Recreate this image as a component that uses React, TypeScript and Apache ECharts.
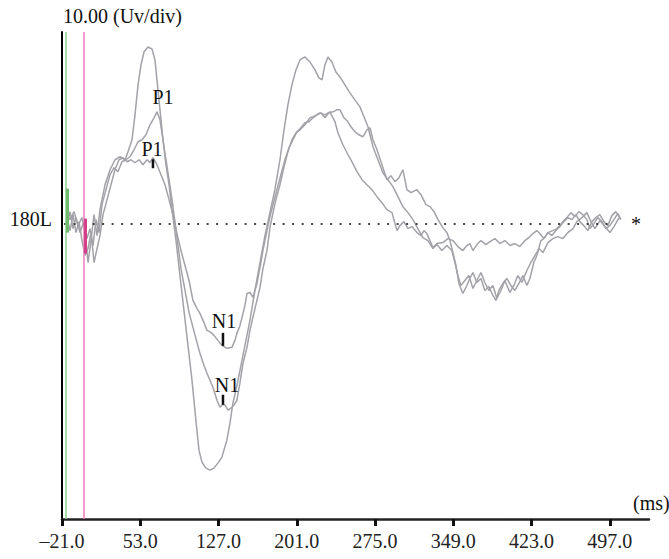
import React, { useEffect, useRef } from "react";
import * as echarts from "echarts";

const xTicks = [-21, 53, 127, 201, 275, 349, 423, 497];
const channelLabel = "180L";
const gainLabel = "10.00 (Uv/div)";
const timeUnit = "(ms)";
const baselineEnd = 500;
const greenMarkerMs = -17.2;
const pinkMarkerMs = 0;

const waveA: [number, number][] = [
  [-16.3, 0.9], [-13.4, 0.4], [-9.6, 1.2], [-5.9, -0.2], [-2.1, 0.6], [0.8, -0.9], [3.6, -3.9], [6.4, -1.7],
  [9.3, 0.9], [12.1, -1.2], [14.9, 1.4], [19.7, 3.9], [24.4, 5.4], [29.1, 6.4], [33.9, 6.7], [38.6, 6.4],
  [41.4, 7.2], [45.2, 8.4], [48.0, 10.9], [50.9, 13.9], [53.7, 15.9], [56.5, 17.2], [60.3, 17.7], [64.1, 17.5],
  [66.9, 16.4], [68.8, 14.4], [70.7, 12.4], [72.6, 10.4], [74.5, 8.4], [77.3, 5.9], [80.2, 3.9], [83.0, 1.4],
  [86.8, -1.7], [90.5, -5.2], [94.3, -8.7], [98.1, -12.2], [101.9, -15.7], [105.6, -19.7], [108.5, -22.7],
  [111.3, -23.9], [115.1, -24.5], [118.9, -24.7], [122.6, -24.5], [126.4, -24.0], [130.2, -23.4], [134.9, -21.7],
  [137.8, -20.0], [140.6, -18.0], [144.4, -16.2], [147.3, -14.7], [150.1, -13.2], [153.9, -11.2], [156.7, -9.7],
  [161.4, -6.7], [166.2, -3.9], [170.9, -1.2], [175.6, 1.1], [180.3, 3.4], [185.1, 6.4], [188.9, 9.4],
  [192.6, 11.9], [196.4, 13.9], [200.2, 15.4], [204.0, 16.4], [208.7, 16.7], [213.4, 16.2], [218.2, 15.4],
  [221.9, 14.6], [224.8, 14.4], [227.6, 15.9], [230.4, 16.7], [234.2, 16.2], [238.0, 15.2], [241.8, 14.7],
  [246.5, 13.9], [251.2, 13.1], [255.9, 12.4], [260.7, 11.7], [264.5, 10.7], [268.3, 9.7], [273.0, 7.7],
  [277.7, 6.4], [282.4, 5.1], [287.2, 4.4], [291.9, 3.7], [296.6, 2.7], [301.3, 1.7], [306.1, 1.1], [310.8, 0.4],
  [315.5, -0.5], [320.2, -1.4], [325.0, -1.7], [329.7, -2.5], [333.5, -2.1], [338.2, -2.7], [342.9, -2.2],
  [347.6, -2.7], [350.5, -3.9], [353.3, -5.2], [356.1, -6.2], [359.9, -5.7], [363.7, -5.2], [367.5, -6.5],
  [371.3, -5.7], [375.1, -4.9], [378.8, -5.9], [382.6, -6.7], [386.4, -6.2], [390.2, -7.5], [394.0, -6.7],
  [397.7, -5.7], [402.5, -6.9], [406.2, -6.2], [410.0, -5.2], [413.8, -5.9], [418.5, -4.7], [422.3, -3.9],
  [426.1, -3.2], [429.9, -2.5], [433.7, -2.9], [438.4, -1.9], [443.1, -1.5], [447.9, -1.3], [452.6, -1.5],
  [457.3, -0.9], [462.1, -0.5], [465.8, 0.2], [470.6, 0.6], [475.3, 1.1], [479.1, 0.2], [482.9, -0.5],
  [487.6, 0.3], [492.3, -0.3], [497.1, -0.9], [500.9, -0.3], [504.6, 0.4], [506.5, 0.6],
];

const waveB: [number, number][] = [
  [-16.3, -0.2], [-13.4, 1.2], [-10.6, -0.5], [-7.8, 0.6], [-4.0, -0.9], [-0.2, 0.2], [2.6, -1.5], [5.5, -0.5],
  [8.3, -2.2], [11.2, 0.4], [14.0, -0.9], [16.8, 1.9], [20.6, 3.4], [24.4, 4.9], [28.2, 5.6], [31.9, 5.2],
  [35.7, 6.2], [39.5, 6.4], [43.3, 6.7], [47.1, 7.4], [50.9, 8.2], [54.6, 8.4], [58.4, 8.9], [62.2, 9.9],
  [66.0, 10.6], [68.8, 11.2], [71.6, 10.4], [74.5, 8.4], [77.3, 6.4], [80.2, 4.4], [83.0, 2.4], [85.8, 0.2],
  [88.7, -2.2], [91.5, -4.5], [95.3, -6.7], [99.1, -8.9], [102.8, -10.4], [106.6, -11.9], [109.4, -13.0],
  [113.2, -14.2], [116.1, -15.0], [118.9, -15.7], [121.7, -16.4], [125.5, -17.7], [128.4, -18.4], [131.2, -18.1],
  [133.1, -18.2], [135.9, -18.7], [138.7, -18.5], [141.6, -18.2], [144.4, -17.7], [147.3, -15.9], [150.1, -14.0],
  [153.9, -12.4], [156.7, -10.7], [159.5, -9.4], [163.3, -7.7], [166.2, -6.4], [169.0, -4.5], [172.8, -2.7],
  [175.6, -0.4], [178.5, 1.1], [181.3, 2.4], [185.1, 3.9], [188.9, 5.7], [192.6, 7.2], [196.4, 8.4],
  [200.2, 9.1], [204.0, 9.4], [208.7, 9.9], [213.4, 10.6], [218.2, 10.8], [222.9, 11.1], [227.6, 10.9],
  [232.3, 11.2], [237.1, 10.2], [239.9, 9.1], [244.6, 7.9], [249.4, 6.9], [253.1, 6.2], [257.9, 5.2],
  [262.6, 4.4], [267.3, 3.9], [272.0, 3.4], [276.8, 2.7], [281.5, 2.1], [286.2, 1.4], [291.0, 1.1],
  [295.7, -0.7], [298.5, -0.2], [302.3, 0.2], [306.1, -0.5], [309.8, -0.3], [314.6, -0.9], [318.4, -1.2],
  [321.2, -0.7], [324.0, -1.0], [329.7, -2.4], [333.5, -2.0], [339.1, -1.9], [343.9, -1.5], [348.6, -1.7],
  [353.3, -2.3], [358.0, -2.7], [361.8, -2.2], [364.6, -2.0], [367.5, -2.7], [371.3, -2.1], [375.1, -1.7],
  [379.8, -2.1], [383.6, -1.8], [388.3, -1.5], [393.0, -2.0], [397.7, -1.7], [402.5, -2.2], [407.2, -2.0],
  [411.9, -2.3], [416.7, -1.7], [421.4, -1.3], [424.2, -1.0], [428.0, -0.7], [430.8, -1.0], [434.6, -1.5],
  [438.4, -0.9], [443.1, -0.7], [446.9, -0.5], [449.7, -0.2], [452.6, 0.2], [456.3, 0.6], [460.1, 1.1],
  [463.9, 0.7], [467.7, 1.2], [471.4, 0.9], [475.3, 0.4], [478.1, -0.5], [481.9, 0.0], [485.6, 0.6],
  [489.4, 0.2], [493.2, -0.5], [497.0, -0.2], [500.8, 0.4], [504.6, 1.0], [507.4, 0.4],
];

const waveC: [number, number][] = [
  [-16.3, 0.6], [-13.4, -0.7], [-10.6, 0.9], [-7.8, -0.9], [-4.9, 0.2], [-2.1, -1.7], [0.8, -3.2], [3.6, -2.5],
  [6.4, -0.9], [9.3, -3.9], [12.1, -2.5], [14.9, -1.2], [17.8, 0.9], [21.6, 2.4], [25.3, 3.9], [29.1, 5.4],
  [32.9, 6.4], [36.7, 6.6], [40.5, 6.2], [44.2, 6.4], [48.0, 6.1], [51.8, 6.4], [55.6, 5.9], [59.4, 6.4],
  [62.2, 6.1], [65.0, 6.6], [68.8, 5.9], [72.6, 4.9], [76.4, 3.9], [80.2, 2.4], [83.9, 0.9], [87.7, -1.0],
  [91.5, -2.7], [95.3, -4.2], [99.1, -5.7], [102.8, -7.7], [106.6, -8.5], [109.4, -9.0], [113.2, -9.9],
  [116.1, -10.7], [119.8, -10.9], [122.7, -11.2], [126.4, -11.7], [130.2, -12.2], [134.9, -12.5], [139.7, -12.4],
  [142.5, -11.7], [144.4, -11.0], [147.3, -10.2], [149.2, -9.4], [152.0, -8.2], [153.9, -7.0], [156.7, -6.9],
  [159.5, -7.4], [163.3, -6.0], [166.2, -4.4], [169.0, -2.7], [172.8, -0.7], [175.6, 0.7], [178.5, 1.9],
  [182.2, 3.4], [186.0, 4.9], [189.8, 6.4], [193.6, 7.6], [197.4, 8.4], [201.1, 9.2], [204.9, 9.6],
  [208.7, 10.1], [212.5, 10.2], [216.3, 10.6], [220.0, 10.9], [223.8, 11.1], [227.6, 10.6], [231.4, 11.1],
  [235.2, 11.2], [238.9, 11.4], [241.8, 11.4], [245.6, 10.6], [249.4, 10.2], [252.2, 9.7], [256.0, 9.2],
  [259.8, 8.9], [263.5, 8.7], [267.3, 9.4], [270.2, 9.6], [273.0, 8.4], [276.8, 7.4], [281.5, 5.9],
  [286.2, 4.4], [290.0, 4.8], [293.8, 4.2], [297.6, 4.6], [301.3, 5.4], [303.2, 4.4], [305.1, 3.4],
  [308.9, 3.1], [314.6, 3.4], [318.4, 2.9], [323.1, 1.9], [326.9, 1.7], [330.7, 1.2], [334.5, 0.4],
  [339.1, -0.4], [342.9, -0.9], [345.8, -1.7], [348.6, -2.9], [351.5, -4.2], [354.3, -6.0], [358.0, -7.0],
  [361.8, -6.2], [364.6, -5.5], [367.5, -4.9], [371.3, -5.9], [375.1, -5.5], [378.8, -6.7], [382.6, -6.3],
  [386.4, -7.2], [389.3, -7.7], [392.1, -6.7], [395.9, -6.0], [399.6, -5.5], [403.4, -6.2], [407.2, -6.7],
  [411.0, -6.0], [414.7, -5.2], [418.5, -6.2], [421.4, -5.5], [425.1, -3.9], [428.0, -3.2], [431.8, -1.7],
  [434.6, -1.5], [438.4, -0.9], [442.2, -1.2], [446.0, -0.7], [449.7, -0.3], [453.5, 0.2], [457.3, 0.6],
  [461.1, 0.4], [464.9, 0.9], [468.6, 0.2], [472.4, -0.2], [476.2, -0.7], [480.0, 0.2], [483.7, 0.6],
  [487.5, 0.9], [491.3, 0.2], [495.1, -0.2], [498.9, 0.8], [502.6, 1.2], [506.4, 0.6],
];

const peakLabels: { name: string; ms: number; val: number; len: number; dist: number; dx: number; tick: boolean }[] = [
  { name: "P1", ms: 74.5, val: 12.65, len: 1, dist: 0, dx: 0, tick: false },
  { name: "P1", ms: 65.0, val: 6.0, len: 9, dist: 0, dx: -1, tick: true },
  { name: "N1", ms: 131.2, val: -11.6, len: 13, dist: 2, dx: 1, tick: true },
  { name: "N1", ms: 131.2, val: -17.65, len: 10, dist: 0, dx: 4, tick: true },
];

const FONT = "'Liberation Serif', 'Times New Roman', serif";
const TRACE = "#a2a2a8";

export default function App() {
  const ref = useRef<HTMLDivElement>(null);
  useEffect(() => {
    document.body.style.margin = "0";
    document.body.style.overflow = "hidden";
    if (!ref.current) return;
    const chart = echarts.init(ref.current, undefined, { renderer: "svg" });
    const fmt = (v: number) => (v < 0 ? "\u2013" + Math.abs(v).toFixed(1) : v.toFixed(1));
    const lineSeries = (data: [number, number][], extra: any = {}) => ({
      type: "line",
      data,
      showSymbol: false,
      symbol: "none",
      silent: true,
      lineStyle: { color: TRACE, width: 1.5 },
      z: 3,
      ...extra,
    });
    chart.setOption({
      animation: false,
      backgroundColor: "#ffffff",
      grid: { left: 62, right: 20, top: 32, bottom: 40, containLabel: false },
      xAxis: {
        type: "value",
        min: -21,
        max: 534,
        axisLine: { show: true, onZero: false, lineStyle: { color: "#222", width: 2.5 } },
        axisTick: { show: true, customValues: xTicks, length: 7, lineStyle: { color: "#111", width: 3 } },
        axisLabel: {
          show: true,
          customValues: xTicks,
          formatter: (v: number) => fmt(v),
          margin: 12,
          fontSize: 20,
          fontFamily: FONT,
          color: "#222",
        },
        splitLine: { show: false },
      },
      yAxis: {
        type: "value",
        min: -29.6,
        max: 19.2,
        axisLine: { show: true, onZero: false, lineStyle: { color: "#000", width: 2 } },
        axisTick: { show: false },
        axisLabel: { show: false },
        splitLine: { show: false },
      },
      graphic: [
        {
          type: "text",
          x: 63,
          y: 16,
          style: { text: gainLabel, font: `20px ${FONT}`, fill: "#111", textVerticalAlign: "middle" },
        },
        {
          type: "text",
          x: 52,
          y: 219,
          style: { text: channelLabel, font: `20px ${FONT}`, fill: "#111", textAlign: "right", textVerticalAlign: "middle" },
        },
        {
          type: "text",
          x: 633,
          y: 503,
          style: { text: timeUnit, font: `20px ${FONT}`, fill: "#111", textVerticalAlign: "middle" },
        },
      ],
      series: [
        lineSeries(waveA, {
          markLine: {
            silent: true,
            symbol: "none",
            animation: false,
            data: [[{ coord: [-19, 0] }, { coord: [baselineEnd, 0] }]],
            lineStyle: { color: "#444", width: 2, type: [2, 7.5] },
            label: {
              show: true,
              position: "end",
              formatter: "*",
              distance: 18,
              fontSize: 20,
              fontFamily: FONT,
              color: "#111",
            },
          },
        }),
        lineSeries(waveB, {
          markLine: {
            silent: true,
            symbol: "none",
            animation: false,
            label: { show: false },
            data: [
              { xAxis: greenMarkerMs, lineStyle: { color: "#8fce8f", width: 1.5, type: "solid" } },
              { xAxis: pinkMarkerMs, lineStyle: { color: "#f07dbd", width: 1.5, type: "solid" } },
              [
                { coord: [greenMarkerMs + 0.8, 3.5], lineStyle: { color: "#6cbb6c", width: 3, type: "solid" } },
                { coord: [greenMarkerMs + 0.8, -0.9] },
              ],
              [
                { coord: [pinkMarkerMs + 0.6, 0.5], lineStyle: { color: "#d2428a", width: 3, type: "solid" } },
                { coord: [pinkMarkerMs + 0.6, -3.0] },
              ],
            ],
          },
        }),
        lineSeries(waveC, {
          markPoint: {
            silent: true,
            animation: false,
            data: peakLabels.map((p) => ({
              coord: [p.ms, p.val],
              symbol: "rect",
              symbolSize: p.tick ? [2.5, p.len] : [1, 1],
              itemStyle: { color: p.tick ? "#111" : "rgba(0,0,0,0)" },
              label: {
                show: true,
                formatter: p.name,
                position: p.tick ? "top" : "inside",
                distance: p.dist,
                offset: [p.dx, 0],
                fontSize: 20,
                fontFamily: FONT,
                color: "#111",
              },
            })),
          },
        }),
      ],
    });
    return () => chart.dispose();
  }, []);
  return <div ref={ref} style={{ width: 669, height: 559 }} />;
}
